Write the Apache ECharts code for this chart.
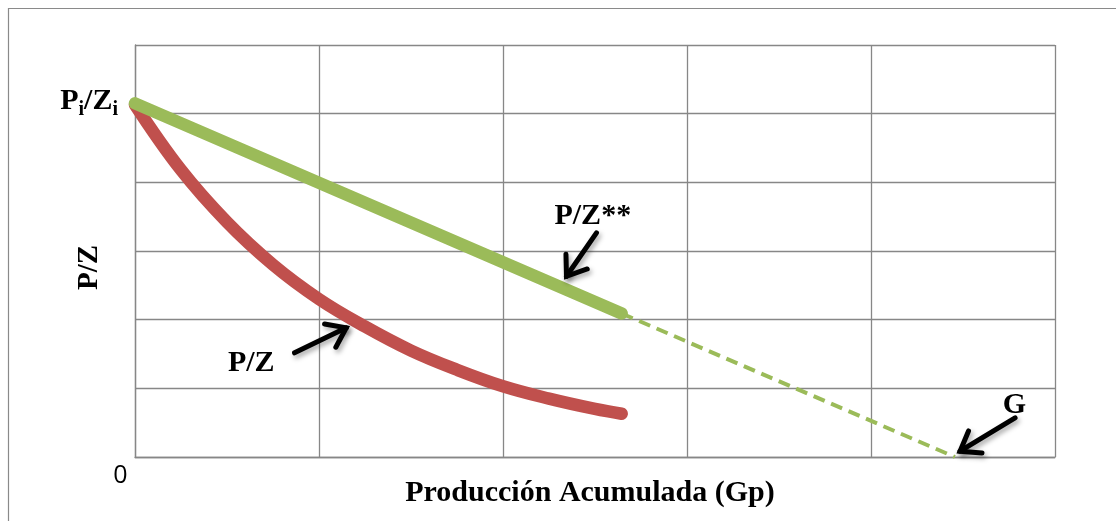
<!DOCTYPE html>
<html>
<head>
<meta charset="utf-8">
<script src="https://cdn.jsdelivr.net/npm/echarts@6/dist/echarts.min.js"></script>
<style>html,body{margin:0;padding:0;background:#fff;}#c{width:1116px;height:521px;}</style>
</head>
<body>
<div id="c"></div>
<script>
// ---- data ----
const xTicks = [0, 1, 2, 3, 4, 5];
const yTicks = [0, 1, 2, 3, 4, 5, 6];
const gpRed = [0, 0.25, 0.5, 0.75, 1.0, 1.25, 1.5, 1.75, 2.0, 2.25, 2.5, 2.645];
const pzRed = [5.13, 4.18, 3.42, 2.8, 2.3, 1.9, 1.55, 1.27, 1.03, 0.85, 0.7, 0.63];
const gpGreen = [0, 2.645];
const pzGreen = [5.15, 2.09];
const gpExtrap = [2.645, 4.456];
const pzExtrap = [2.09, 0];
const originLabel = '0';
const xTitle = 'Producción Acumulada (Gp)';
const yTitle = 'P/Z';
const labelPZ2 = 'P/Z**';
const labelPZ = 'P/Z';
const labelG = 'G';

// ---- layout (annotation anchors in data units) ----
const textAnchors = [
  {text: labelPZ2, at: [2.488, 3.506]},
  {text: labelPZ, at: [0.632, 1.371]},
  {text: labelG, at: [4.78, 0.757]}
];
const arrowAnchors = [
  {from: [2.508, 3.264], to: [2.345, 2.632]},
  {from: [0.867, 1.517], to: [1.148, 1.881]},
  {from: [4.783, 0.571], to: [4.484, 0.084]}
];

const zip = (a, b) => a.map((v, i) => [v, b[i]]);
const RED = '#C0504D', GREEN = '#9BBB59', GRID = '#878787';
const SERIF = '"Liberation Serif", "DejaVu Serif", serif';

const chart = echarts.init(document.getElementById('c'), null, {renderer: 'canvas'});
chart.setOption({
  animation: false,
  backgroundColor: '#fff',
  grid: {left: 135, top: 45, width: 920, height: 412, containLabel: false},
  xAxis: {
    type: 'value', min: xTicks[0], max: xTicks[xTicks.length - 1], interval: 1,
    axisLine: {show: true, lineStyle: {color: GRID, width: 1.3}},
    axisTick: {show: false}, axisLabel: {show: false},
    splitLine: {show: true, lineStyle: {color: GRID, width: 1.3}}
  },
  yAxis: {
    type: 'value', min: yTicks[0], max: yTicks[yTicks.length - 1], interval: 1,
    axisLine: {show: true, lineStyle: {color: GRID, width: 1.3}},
    axisTick: {show: false}, axisLabel: {show: false},
    splitLine: {show: true, lineStyle: {color: GRID, width: 1.3}}
  },
  series: [
    {type: 'line', data: zip(gpRed, pzRed), smooth: 0.4, showSymbol: false, z: 2,
     lineStyle: {color: RED, width: 12.5, cap: 'round', join: 'round'}},
    {type: 'line', data: zip(gpExtrap, pzExtrap), showSymbol: false, z: 3,
     lineStyle: {color: GREEN, width: 4, type: [12, 7]}},
    {type: 'line', data: zip(gpGreen, pzGreen), showSymbol: false, z: 4,
     lineStyle: {color: GREEN, width: 12.5, cap: 'round'}}
  ]
});

const px = p => chart.convertToPixel({gridIndex: 0}, p);
const graphics = [];
// outer chart border
graphics.push({type: 'rect', shape: {x: 8.5, y: 8.5, width: 1200, height: 600},
  style: {fill: 'none', stroke: '#8a8a8a', lineWidth: 1.2}, z: 0});

const shadow = {shadowBlur: 5, shadowColor: 'rgba(0,0,0,0.35)', shadowOffsetX: 2, shadowOffsetY: 3};
arrowAnchors.forEach(a => {
  const t = px(a.from), h = px(a.to);
  const ang = Math.atan2(t[1] - h[1], t[0] - h[0]);
  const L = 22, s = 36 * Math.PI / 180;
  const p1 = [h[0] + L * Math.cos(ang + s), h[1] + L * Math.sin(ang + s)];
  const p2 = [h[0] + L * Math.cos(ang - s), h[1] + L * Math.sin(ang - s)];
  graphics.push({type: 'polyline', shape: {points: [t, h]}, z: 10,
    style: Object.assign({stroke: '#000', lineWidth: 5, lineCap: 'round', fill: null}, shadow)});
  graphics.push({type: 'polyline', shape: {points: [p1, h, p2]}, z: 10,
    style: Object.assign({stroke: '#000', lineWidth: 5, lineCap: 'round', lineJoin: 'miter', fill: null}, shadow)});
});

textAnchors.forEach(a => {
  const p = px(a.at);
  graphics.push({type: 'text', x: p[0], y: p[1], z: 11,
    style: {text: a.text, fill: '#000', font: 'bold 30px ' + SERIF, align: 'center', verticalAlign: 'middle'}});
});

// Pi/Zi label at the initial value
const pStart = px([0, pzGreen[0]]);
graphics.push({type: 'text', x: pStart[0] - 17, y: pStart[1] - 2, z: 11,
  style: {text: '{b|P}{s|i}{b|/Z}{s|i}', align: 'right', verticalAlign: 'middle',
    rich: {
      b: {font: 'bold 30px ' + SERIF, fill: '#000', lineHeight: 36, verticalAlign: 'middle'},
      s: {font: 'bold 20px ' + SERIF, fill: '#000', lineHeight: 20, verticalAlign: 'bottom'}
    }}});

// origin label
const o = px([0, 0]);
graphics.push({type: 'text', x: o[0] - 14.5, y: o[1] + 19, z: 11,
  style: {text: originLabel, fill: '#000', font: '25px "Open Sans", "Noto Sans", sans-serif', align: 'center', verticalAlign: 'middle'}});

// axis titles
const xa = px([2.5, 0]);
graphics.push({type: 'text', x: xa[0] - 5, y: 493, z: 11,
  style: {text: xTitle, fill: '#000', font: 'bold 30px ' + SERIF, align: 'center', verticalAlign: 'middle'}});
graphics.push({type: 'text', x: 90, y: 267.5, rotation: Math.PI / 2, z: 11,
  style: {text: yTitle, fill: '#000', font: 'bold 29px ' + SERIF, align: 'center', verticalAlign: 'middle'}});

chart.setOption({graphic: {elements: graphics}});
</script>
</body>
</html>
